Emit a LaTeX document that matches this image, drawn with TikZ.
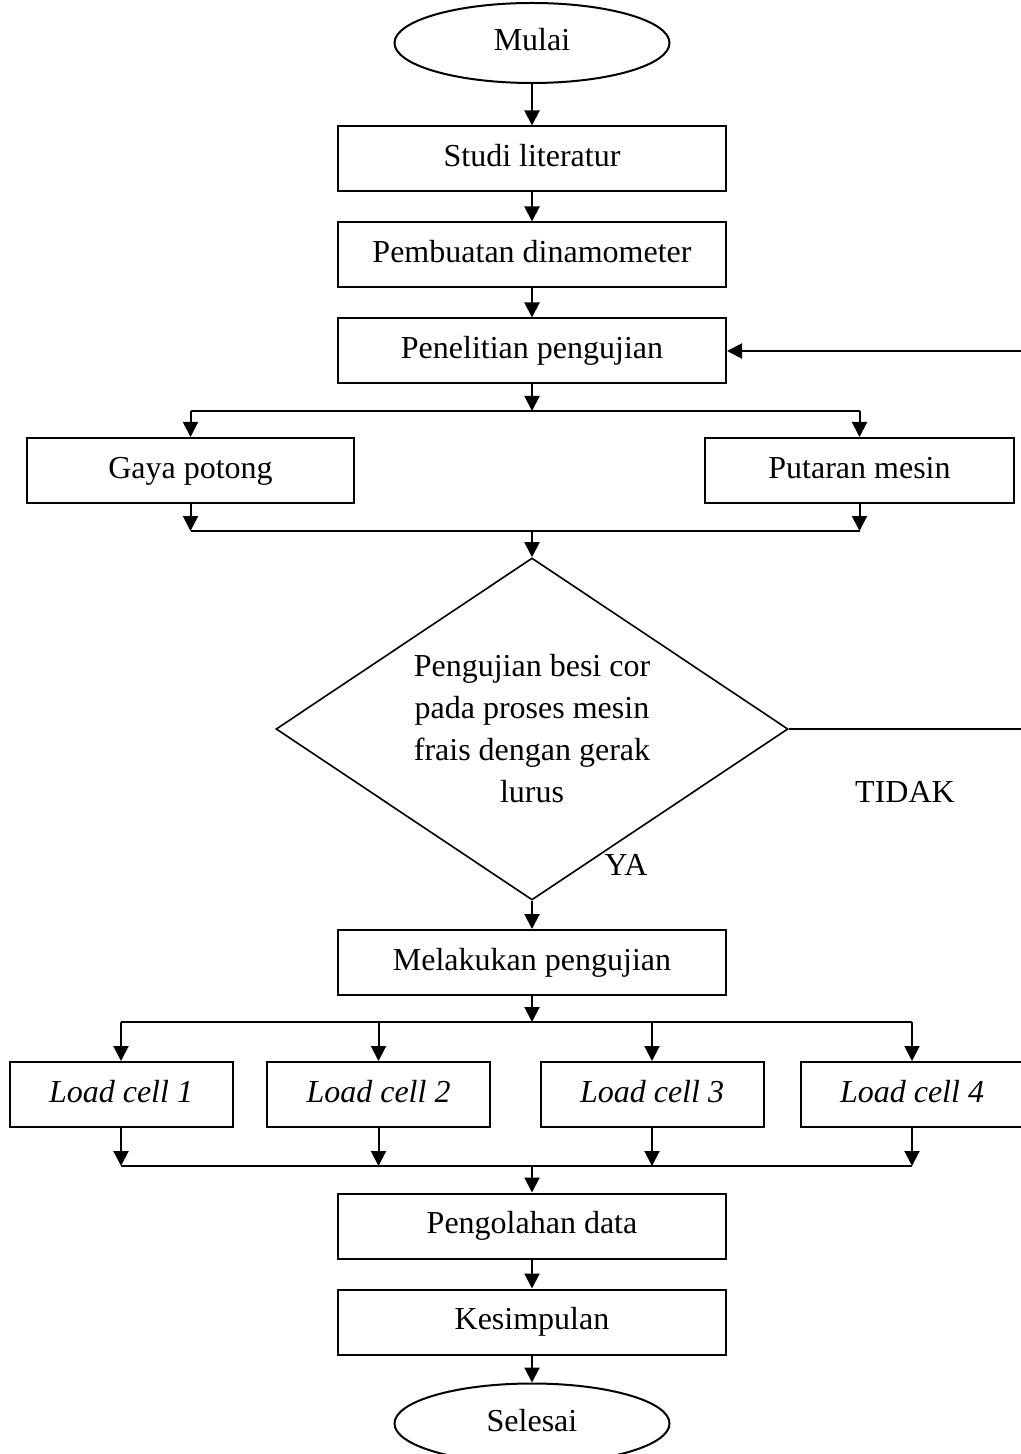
\documentclass[tikz,border=0pt]{standalone}
\usepackage{fontspec}
\setmainfont{Liberation Serif}
\usepackage{tikz}
\usetikzlibrary{shapes.geometric,arrows.meta,positioning}

\begin{document}
\begin{tikzpicture}[x=1pt, y=1pt, node distance=14.5pt,
    teks/.style={font=\fontsize{16pt}{21pt}\selectfont},
    satu/.style={teks, text height=11pt, text depth=3.5pt},
    proses/.style={rectangle, draw, line width=1pt, minimum width=194pt, minimum height=32.5pt, inner sep=0pt, align=center, satu},
    terminal/.style={ellipse, draw, line width=1pt, minimum width=137.5pt, minimum height=40pt, inner sep=0pt, satu},
    keputusan/.style={diamond, draw, line width=0.8pt, aspect=1.5, minimum width=256pt, minimum height=171pt, inner sep=0pt, align=center, teks},
    cabang/.style={rectangle, draw, line width=1pt, minimum height=32.5pt, inner sep=0pt, align=center, satu},
    panah/.style={-{Triangle[length=7.5pt,width=7.5pt]}, line width=1pt},
    garis/.style={line width=1pt}]
    \useasboundingbox (0,0) rectangle (510.5,-727);

    % alur atas
    \node (mulai) [terminal] at (266,-21.5) {Mulai};
    \node (studi) [proses] at (266,-79.5) {Studi literatur};
    \node (buat) [proses, below=of studi] {Pembuatan dinamometer};
    \node (teliti) [proses, below=of buat] {Penelitian pengujian};

    \node (gaya) [cabang, minimum width=163.5pt] at (95.25,-235.25) {Gaya potong};
    \node (putar) [cabang, minimum width=154.5pt] at (429.75,-235.25) {Putaran mesin};

    \node (uji) [keputusan] at (266,-364.5) {Pengujian besi cor\\pada proses mesin\\frais dengan gerak\\lurus};
    \node (tidak) [satu] at (452.5,-397.5) {TIDAK};
    \node (ya) [satu] at (313,-434) {YA};

    \node (lakukan) [proses] at (266,-481.25) {Melakukan pengujian};

    % load cell
    \foreach \i/\x in {1/60.5, 2/189.25, 3/326, 4/456}
        \node (lc\i) [cabang, minimum width=111.5pt] at (\x,-547.25) {\textit{Load cell \i}};

    \node (olah) [proses] at (266,-613) {Pengolahan data};
    \node (simpul) [proses, below=of olah] {Kesimpulan};
    \node (selesai) [terminal, below=13.5pt of simpul] {Selesai};

    \coordinate (pisah1) at (266,-205.5);
    \coordinate (gabung1) at (266,-265.5);
    \coordinate (pisah2) at (266,-511);
    \coordinate (gabung2) at (266,-583);
    \coordinate (balik) at (512,-364.5);

    \draw[panah] (mulai) -- (studi);
    \draw[panah] (studi) -- (buat);
    \draw[panah] (buat) -- (teliti);

    \draw[panah] (teliti) -- (pisah1);
    \draw[garis] (gaya.north |- pisah1) -- (putar.north |- pisah1);
    \draw[panah] (gaya.north |- pisah1) -- (gaya.north);
    \draw[panah] (putar.north |- pisah1) -- (putar.north);
    \draw[panah] (gaya.south) -- (gaya.south |- gabung1);
    \draw[panah] (putar.south) -- (putar.south |- gabung1);
    \draw[garis] (gaya.south |- gabung1) -- (putar.south |- gabung1);
    \draw[panah] (gabung1) -- (uji.north);

    \draw[panah] (uji.east) -- (balik) |- (teliti.east);
    \draw[panah] (uji.south) -- (lakukan.north);

    \draw[panah] (lakukan.south) -- (pisah2);
    \draw[garis] (lc1.north |- pisah2) -- (lc4.north |- pisah2);
    \draw[garis] (lc1.south |- gabung2) -- (lc4.south |- gabung2);
    \foreach \i in {1,...,4} {
        \draw[panah] (lc\i.north |- pisah2) -- (lc\i.north);
        \draw[panah] (lc\i.south) -- (lc\i.south |- gabung2);
    }
    \draw[panah] (gabung2) -- (olah.north);

    \draw[panah] (olah) -- (simpul);
    \draw[panah] (simpul) -- (selesai);
\end{tikzpicture}
\end{document}
